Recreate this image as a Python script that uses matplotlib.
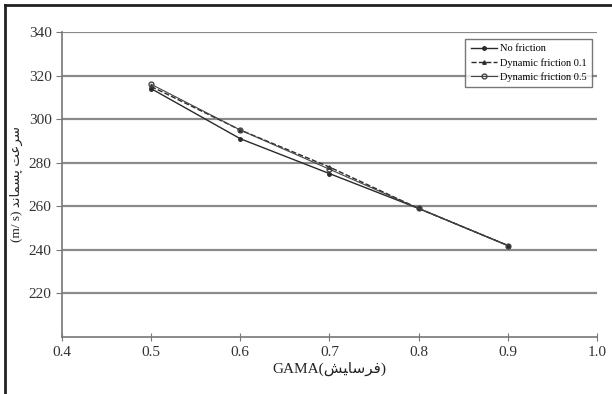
import matplotlib.pyplot as plt
from matplotlib.lines import Line2D

gama = [0.5, 0.6, 0.7, 0.8, 0.9]
no_friction = [314, 291, 275, 259, 242]
dyn_01 = [315, 295, 278, 259, 242]
dyn_05 = [316, 295, 277, 259, 242]

xticks = [0.4, 0.5, 0.6, 0.7, 0.8, 0.9, 1.0]
yticks = [220, 240, 260, 280, 300, 320, 340]

# persian words written in presentation forms, visual order (no shaping in mpl)
farsayesh = "\uFEB6\uFEF4\uFE8E\uFEB3\uFEAE\uFED3"
sorat = "\uFE96\uFECB\uFEAE\uFEB3"
pasmand = "\uFEAA\uFEE7\uFE8E\uFEE4\uFEB4\uFB58"

plt.rcParams['font.family'] = ['Liberation Serif', 'DejaVu Sans']

fig = plt.figure(figsize=(6.12, 3.94), dpi=100)
ax = fig.add_axes([62/612, 1-337/394, 535/612, 305/394])

ax.plot(gama, no_friction, color='#2a2a2a', lw=1.0, marker='o', ms=2.5, label='No friction')
ax.plot(gama, dyn_01, color='#2a2a2a', lw=1.0, ls='--', marker='^', ms=2.5, label='Dynamic friction 0.1')
ax.plot(gama, dyn_05, color='#444444', lw=0.8, marker='o', ms=3.5, mfc='none', label='Dynamic friction 0.5')

ax.set_xlim(0.4, 1.0)
ax.set_ylim(200, 340)
ax.set_xticks(xticks)
ax.set_xticklabels(['%.1f' % v for v in xticks])
ax.set_yticks(yticks)
ax.yaxis.grid(True, color='#8a8a8a', lw=1.6)
ax.set_axisbelow(True)
for s in ['top', 'right']:
    ax.spines[s].set_visible(False)
for s in ['left', 'bottom']:
    ax.spines[s].set_color('#777777')
    ax.spines[s].set_linewidth(1.2)
ax.tick_params(axis='both', colors='#777777', labelcolor='#333333', labelsize=11, length=4)
ax.tick_params(axis='x', direction='inout', length=6)

ax.set_xlabel('GAMA(' + farsayesh + ')', fontsize=11, color='#222222', labelpad=2)
ax.set_ylabel('(m/ s) ' + pasmand + ' ' + sorat, fontsize=9.5, color='#222222', labelpad=4)

leg = ax.legend(loc='upper right', bbox_to_anchor=(1.0, 0.995), fontsize=7.5, frameon=True,
                fancybox=False, edgecolor='#555555', handlelength=2.5, borderpad=0.5,
                labelspacing=0.45, handletextpad=0.3)
leg.get_frame().set_linewidth(1.0)

# outer frame on left and top
fig.add_artist(Line2D([5/612, 5/612], [0, 1-5/394], transform=fig.transFigure, color='#222222', lw=2))
fig.add_artist(Line2D([5/612, 1], [1-5/394, 1-5/394], transform=fig.transFigure, color='#222222', lw=2))

fig.savefig('out.png', dpi=100)
